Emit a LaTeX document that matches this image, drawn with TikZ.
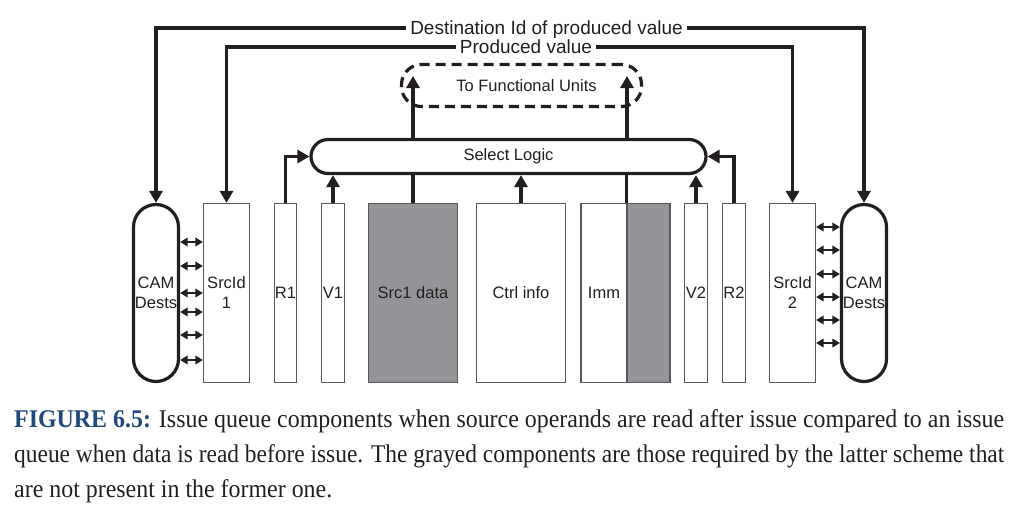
\documentclass[tikz,border=0pt]{standalone}
\usepackage{graphicx}
\usepackage{fontspec}
\setmainfont{Liberation Serif}
\newfontfamily\diafont{Liberation Sans}
\usetikzlibrary{arrows.meta,calc}
\definecolor{ink}{RGB}{35,31,32}
\definecolor{grayfill}{RGB}{147,149,152}
\definecolor{boxline}{RGB}{88,89,91}
\definecolor{capblue}{RGB}{31,73,125}
\newlength\capw
\newcommand\mycapfont{\rmfamily\fontsize{25.5}{30}\selectfont}
\begin{document}
\settowidth\capw{\mycapfont\textbf{FIGURE 6.5:} Issue queue components when source operands are read after issue compared to an issue}%
\pgfmathsetmacro\capsc{990/\capw}%
\begin{tikzpicture}[x=1pt,y=-1pt,
  every node/.style={font=\diafont\fontsize{16.5}{20}\selectfont, text=ink},
  box/.style={draw=boxline, line width=1.2pt, fill=white, minimum height=179, inner sep=0pt, align=center},
  graybox/.style={box, fill=grayfill},
  cam/.style={draw=ink, line width=3.2pt, rounded corners=22.5, minimum width=45, minimum height=177, inner sep=0pt, align=center, fill=white},
  conn/.style={draw=ink, line width=3.2pt, -{Triangle[length=12pt,width=13pt]}},
  plain/.style={draw=ink, line width=3.2pt},
  dbl/.style={draw=ink, line width=2pt, {Triangle[length=7.5pt,width=8.5pt]}-{Triangle[length=7.5pt,width=8.5pt]}},
  toplbl/.style={font=\diafont\fontsize{19}{22}\selectfont, inner xsep=4pt, inner ysep=0pt, text height=13.6pt, text depth=0pt},
  caption/.style={font=\mycapfont, anchor=base west, inner sep=0pt, text=ink},
]
\useasboundingbox (0,0) rectangle (1024,515);

% entry fields
\node[cam] (camL) at (156,293) {CAM\\Dests};
\node[box, minimum width=46] (sid1) at (226.5,293) {SrcId\\1};
\node[box, minimum width=22] (r1) at (285.5,293) {R1};
\node[box, minimum width=23] (v1) at (333,293) {V1};
\node[graybox, minimum width=89] (src1) at (413,293) {Src1 data};
\node[box, minimum width=89] (ctrl) at (521,293) {Ctrl info};
\node[box, minimum width=46] (imm) at (604,293) {Imm};
\node[graybox, minimum width=43] (immg) at (648.5,293) {};
\node[box, minimum width=23] (v2) at (696,293) {V2};
\node[box, minimum width=23] (r2) at (734,293) {R2};
\node[box, minimum width=46] (sid2) at (792.5,293) {SrcId\\2};
\node[cam] (camR) at (864,293) {CAM\\Dests};

% select logic and functional units
\node[draw=ink, line width=3.2pt, rounded corners=17, minimum width=395, minimum height=34, inner sep=0pt, fill=white] (sel) at (508.5,156.5) {Select Logic};
\node[draw=ink, line width=3.2pt, dash pattern=on 10pt off 6pt, rounded corners=20, minimum width=240, minimum height=42, inner sep=0pt] (fu) at (521.5,85.5) {\hspace*{10pt}To Functional Units};
\coordinate (fuL) at (413,76);
\coordinate (fuR) at (627,76);

% broadcast labels
\node[toplbl] (dest) at (546.5,28) {Destination Id of produced value};
\node[toplbl] (prod) at (526,47) {Produced value};

% broadcast buses
\draw[conn] (dest.west) -| (camL.north);
\draw[conn] (dest.east) -| (camR.north);
\draw[conn] (prod.west) -| (sid1.north);
\draw[conn] (prod.east) -| (sid2.north);

% request / ready signals
\draw[conn] (r1.north) |- (sel.west);
\draw[conn] (r2.north) |- (sel.east);
\draw[conn] (v1.north) -- (v1.north |- sel.south);
\draw[conn] (ctrl.north) -- (ctrl.north |- sel.south);
\draw[conn] (v2.north) -- (v2.north |- sel.south);
\draw[plain] (src1.north) -- (src1.north |- sel.south);
\draw[plain] (immg.north west) -- (immg.north west |- sel.south);
\draw[conn] (sel.north -| fuL) -- (fuL);
\draw[conn] (sel.north -| fuR) -- (fuR);

% CAM comparators
\foreach \yy in {242,266,293,312,335,360}
  \draw[dbl] (camL.east |- 0,\yy) -- (sid1.west |- 0,\yy);
\foreach \yy in {227,250,274,297,320,343}
  \draw[dbl] (sid2.east |- 0,\yy) -- (camR.west |- 0,\yy);

% caption
\node[caption] (cap1) at (14,427) {\resizebox{990pt}{\height}{\textcolor{capblue}{\textbf{FIGURE 6.5:}} Issue queue components when source operands are read after issue compared to an issue}};
\node[caption] (cap2) at (14,462) {\resizebox{990pt}{\height}{queue when data is read before issue. The grayed components are those required by the latter scheme that}};
\node[caption] (cap3) at (14,497) {\scalebox{\capsc}[1]{are not present in the former one.}};
\end{tikzpicture}
\end{document}
